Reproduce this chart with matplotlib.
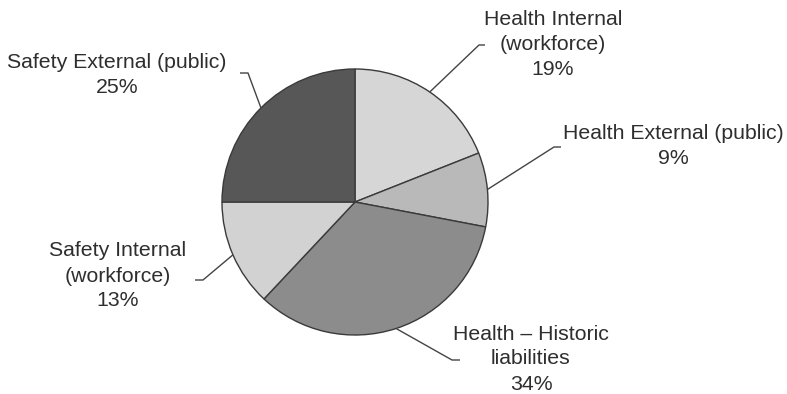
import numpy as np
import matplotlib
matplotlib.use('Agg')
import matplotlib.pyplot as plt

plt.rcParams['font.family'] = ['Liberation Sans', 'DejaVu Sans']

labels = ['Health Internal\n(workforce)', 'Health External (public)',
          'Health \u2013 Historic\nliabilities', 'Safety Internal\n(workforce)',
          'Safety External (public)']
shares = [19, 9, 34, 13, 25]
colors = ['#d6d6d6', '#b9b9b9', '#8c8c8c', '#d2d2d2', '#575757']

W, H = 787, 394
# layout (pixel coords, y from top): label centre, elbow, end of leader line
label_pos = [(553, 44), (673, 146), (531, 359), (118, 276), (117, 75)]
elbows = [(479, 45), (554, 147), (452, 360), (203, 280), (248, 73)]
tails = [(485, 45), (561, 147), (460, 360), (195, 280), (240, 73)]
center = (355, 202)
radius = 133

fig = plt.figure(figsize=(W / 100, H / 100), dpi=100)
ax = fig.add_axes([0, 0, 1, 1])


def py(y):
    return H - y


wedges, _ = ax.pie(shares, colors=colors, startangle=90, counterclock=False,
                   center=(center[0], py(center[1])), radius=radius,
                   wedgeprops=dict(edgecolor='#3a3a3a', linewidth=1.0))
ax.set_xlim(0, W)
ax.set_ylim(0, H)
ax.set_aspect('equal')
ax.axis('off')

for w, lab, share, (lx, ly), (ex, ey), (tx, ty) in zip(
        wedges, labels, shares, label_pos, elbows, tails):
    ang = np.deg2rad((w.theta1 + w.theta2) / 2)
    sx = center[0] + radius * np.cos(ang)
    sy = py(center[1]) + radius * np.sin(ang)
    ax.plot([sx, ex, tx], [sy, py(ey), py(ty)], color='#444444', lw=1.0,
            solid_capstyle='butt')
    ax.text(lx, py(ly), f'{lab}\n{share}%', ha='center', va='center',
            fontsize=15.3, color='#2e2e2e', linespacing=1.4)

fig.savefig('out.png', dpi=100)
